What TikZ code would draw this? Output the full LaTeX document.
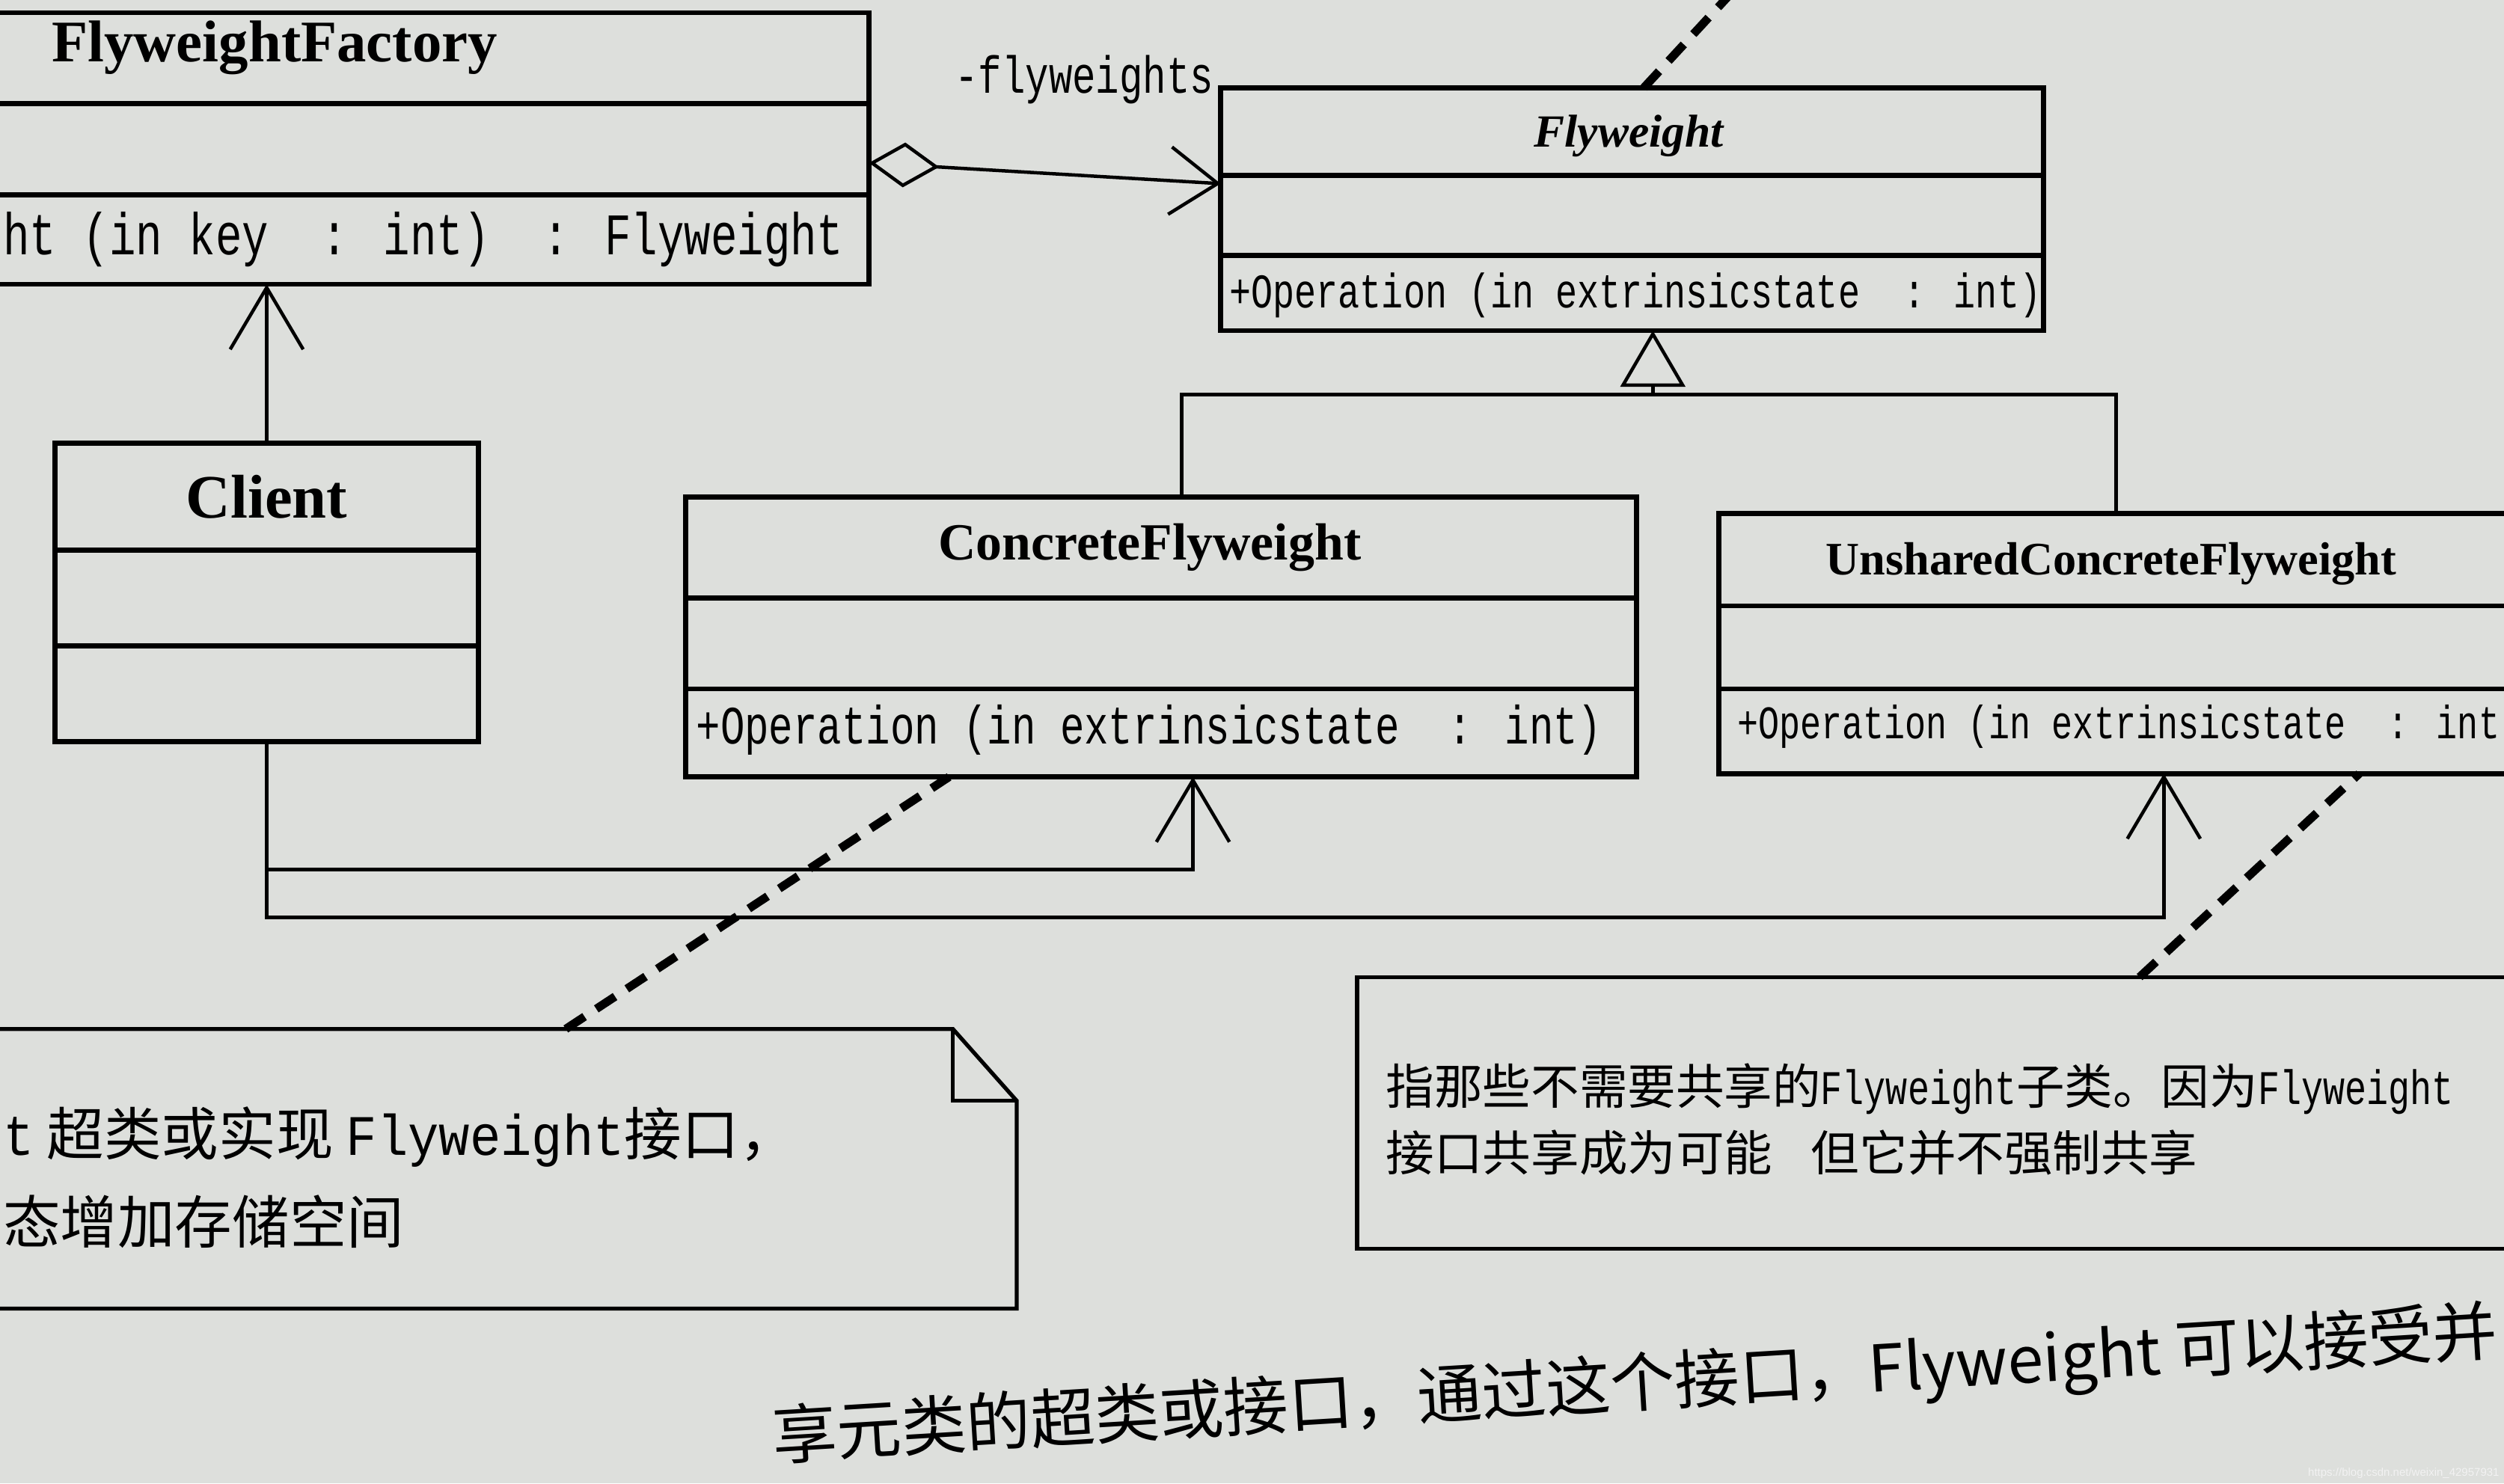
\documentclass[tikz,border=0pt]{standalone}
\usepackage{fontspec}
\setmainfont{Liberation Serif}
\setsansfont{Liberation Sans}
\newfontfamily\opfont[FakeStretch=0.75]{Liberation Mono}
\newfontfamily\notelatin[FakeStretch=0.9]{Liberation Mono}
\newfontfamily\cjk{Noto Sans CJK SC}
\usetikzlibrary{arrows.meta,calc}
\definecolor{paper}{RGB}{221,223,220}

\begin{document}
\begin{tikzpicture}[x=0.01cm, y=-0.01cm,
        title/.style={font=\bfseries\fontsize{#1}{14}\selectfont},
        op/.style={anchor=west, font=\opfont\fontsize{#1}{12}\selectfont},
        notetext/.style={anchor=west, font=\cjk\fontsize{#1}{14}\selectfont}]
        \tikzstyle{every node}=[inner sep=0pt, outer sep=0pt]
        \tikzstyle{classbox}=[draw, line width=0.9pt, rectangle]
        \tikzstyle{notebox}=[rectangle, line width=0.7pt]
        \tikzstyle{assoc}=[line width=0.6pt, -{Straight Barb[length=11pt,width=13pt]}]
        \tikzstyle{aggr}=[line width=0.6pt, {Diamond[open,length=12.5pt,width=8pt]}-{Straight Barb[length=8.5pt,width=12pt]}]
        \tikzstyle{inherit}=[line width=0.6pt, -{Triangle[open,length=10pt,width=11.5pt]}]
        \tikzstyle{notelink}=[line width=1.5pt, dash pattern=on 4pt off 2.5pt]

        \useasboundingbox (0,0) rectangle (1568,929);
        \fill[paper] (0,0) rectangle (1568,929);

    \begin{scope}
        \clip (0,0) rectangle (1568,929);

% the classes
        \node[classbox, minimum width=5.64cm, minimum height=1.70cm] (fac) at (262,93) {};
        \node[classbox, minimum width=5.15cm, minimum height=1.52cm] (fw) at (1022,131) {};
        \node[classbox, minimum width=2.65cm, minimum height=1.87cm] (cl) at (167,371) {};
        \node[classbox, minimum width=5.95cm, minimum height=1.75cm] (con) at (727,399) {};
        \node[classbox, minimum width=5.43cm, minimum height=1.63cm] (uns) at (1348,403) {};

        \foreach \c/\a/\b in {fac/57/114, fw/55/105, cl/67/127, con/63/120, uns/58/110}{
            \draw[line width=0.9pt] ($(\c.north west)+(0,\a)$) -- ($(\c.north east)+(0,\a)$);
            \draw[line width=0.9pt] ($(\c.north west)+(0,\b)$) -- ($(\c.north east)+(0,\b)$);
        }

        \node[title=10.5] (facname) at (172,30) {FlyweightFactory};
        \node[op=10.5] (facop) at (2,150) {ht (in key\ \ : int)\ \ : Flyweight};
        \node[title=8.2] (fwname) at (1020,85) {\itshape Flyweight};
        \node[op=8.6] (fwop) at (770,185) {+Operation (in extrinsicstate\ \ : int)};
        \node[title=11] (clname) at (167,311) {Client};
        \node[title=9.3] (conname) at (720,343) {ConcreteFlyweight};
        \node[op=9.6] (conop) at (436,457) {+Operation (in extrinsicstate\ \ : int)};
        \node[title=8.3] (unsname) at (1322,353) {UnsharedConcreteFlyweight};
        \node[op=8.3] (unsop) at (1088,455) {+Operation (in extrinsicstate\ \ : int};
        \node[op=9.3] (role) at (598,50) {-flyweights};

% relations
        \draw[aggr] ($(fac.east)+(0,9)$) -- ($(fw.west)+(0,-16)$);
        \draw[assoc] (cl.north) -- (cl.north |- fac.south);
        \coordinate (gen) at (1035,247);
        \draw[inherit] (gen) -- (gen |- fw.south);
        \draw[line width=0.6pt] ($(con.north)+(13,0)$) |- (gen) -| ($(uns.north)+(-23,0)$);
        \draw[assoc] (cl.south) -- ++(0,80) -| ($(con.south)+(20,0)$);
        \draw[assoc] (cl.south) -- ++(0,110) -| ($(uns.south)+(7,0)$);

% the notes
        \node[notebox, minimum width=6.57cm, minimum height=1.75cm] (n1) at (308,732) {};
        \draw[line width=0.7pt] (n1.south west) -- (n1.north west) -- ($(n1.north east)+(-40,0)$)
            -- ($(n1.north east)+(0,45)$) -- (n1.south east) -- cycle;
        \draw[line width=0.7pt] ($(n1.north east)+(-40,0)$) |- ($(n1.north east)+(0,45)$);
        \node[notebox, draw, minimum width=7.7cm, minimum height=1.7cm] (n2) at (1235,697) {};

        \node[notetext=10.2] (n1a) at (2,712) {{\notelatin t} 超类或实现 {\notelatin Flyweight}接口，};
        \node[notetext=10.2] (n1b) at (2,765) {态增加存储空间};
        \node[notetext=8.6] (n2a) at (868,682) {指那些不需要共享的{\opfont Flyweight}子类。因为{\opfont Flyweight}};
        \node[notetext=8.6] (n2b) at (868,722) {接口共享成为可能\hspace{0.8em}但它并不强制共享};

        \draw[notelink] ($(n1.north west)+(375,0)$) -- ($(con.south west)+(165,0)$);
        \draw[notelink] ($(n2.north west)+(490,0)$) -- ($(uns.south west)+(401,0)$);
        \draw[notelink] ($(fw.north west)+(265,0)$) -- ++(60,-65);

% page text under the figure
        \node[font=\cjk\fontsize{11.5}{14}\selectfont, rotate=3.5, anchor=east] (body) at (1564,836)
            {享元类的超类或接口，通过这个接口，Flyweight 可以接受并};
        \node[font=\sffamily\fontsize{2}{3}\selectfont, text=white!90!gray, anchor=south east] (wm) at (1565,926)
            {https://blog.csdn.net/weixin\_42957931};
    \end{scope}

    \end{tikzpicture}
\end{document}
